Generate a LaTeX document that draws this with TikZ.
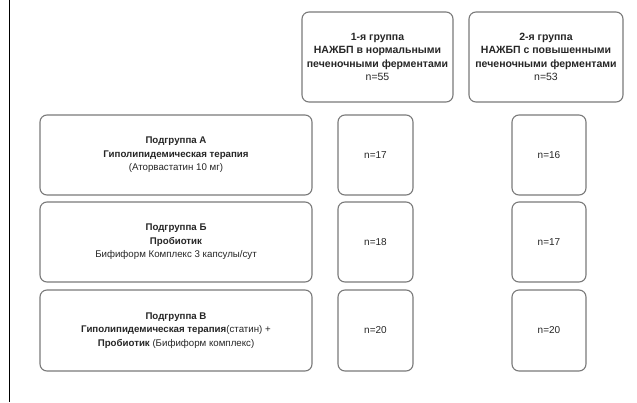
\documentclass[tikz,border=0pt]{standalone}
\usepackage{fontspec}
\setmainfont{Liberation Sans}
\definecolor{boxline}{HTML}{7A7A7A}
\definecolor{txt}{HTML}{262626}
\tikzset{
  rbox/.style={draw=boxline, line width=1.1pt, rounded corners=7pt, fill=white,
    align=center, text=txt, inner sep=1pt,
    font=\fontsize{9.7}{13.5}\selectfont},
  topbox/.style={rbox, font=\fontsize{10.5}{13.5}\selectfont},
  numbox/.style={rbox, font=\fontsize{10}{12}\selectfont},
}
\begin{document}
\begin{tikzpicture}[x=1pt,y=-1pt]
\useasboundingbox (0,0) rectangle (637,402);
\fill[white] (0,0) rectangle (637,402);
\coordinate (ltop) at (9,0);
\coordinate (lbot) at (9,402);
\draw[black, line width=1pt] (ltop) -- (lbot);

\node[topbox, minimum width=151pt, minimum height=90pt] (g1) at (377.5,57)
  {\textbf{1-я группа}\\\textbf{НАЖБП в нормальными}\\\textbf{печеночными ферментами}\\n=55};
\node[topbox, minimum width=154pt, minimum height=90pt] (g2) at (546,57)
  {\textbf{2-я группа}\\\textbf{НАЖБП с повышенными}\\\textbf{печеночными ферментами}\\n=53};

\node[rbox, minimum width=272pt, minimum height=80pt] (sa) at (176,155)
  {\textbf{Подгруппа А}\\\textbf{Гиполипидемическая терапия}\\(Аторвастатин 10 мг)};
\node[rbox, minimum width=272pt, minimum height=80pt] (sb) at (176,242)
  {\textbf{Подгруппа Б}\\\textbf{Пробиотик}\\Бифиформ Комплекс 3 капсулы/сут};
\node[rbox, minimum width=272pt, minimum height=81pt] (sc) at (176,330.5)
  {\textbf{Подгруппа В}\\\textbf{Гиполипидемическая терапия}(статин) +\\\textbf{Пробиотик} (Бифиформ комплекс)};

\node[numbox, minimum width=75pt, minimum height=80pt] (a1) at (375.5,155) {n=17};
\node[numbox, minimum width=75pt, minimum height=80pt] (b1) at (375.5,242) {n=18};
\node[numbox, minimum width=75pt, minimum height=81pt] (c1) at (375.5,330.5) {n=20};
\node[numbox, minimum width=74pt, minimum height=80pt] (a2) at (549,155) {n=16};
\node[numbox, minimum width=74pt, minimum height=80pt] (b2) at (549,242) {n=17};
\node[numbox, minimum width=74pt, minimum height=81pt] (c2) at (549,330.5) {n=20};
\end{tikzpicture}
\end{document}
